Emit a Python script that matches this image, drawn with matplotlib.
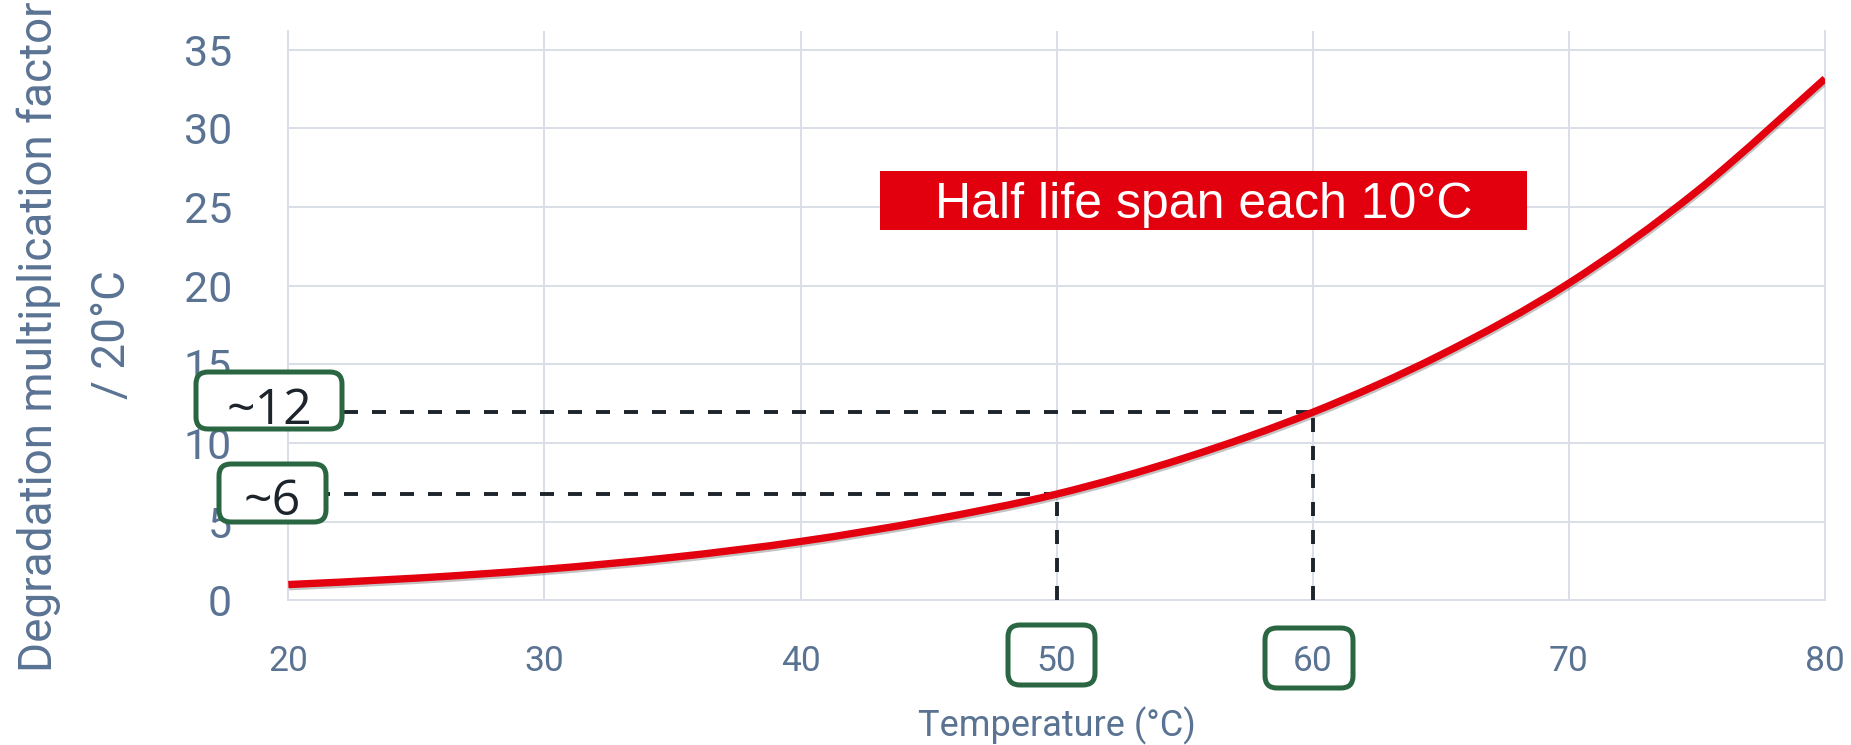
import numpy as np
import matplotlib.pyplot as plt
from matplotlib.patches import FancyBboxPatch, Rectangle, PathPatch
from matplotlib.path import Path
import matplotlib.patheffects as pe

# degradation multiplication factor relative to 20 degC, read every 5 degC
temps = [20, 25, 30, 35, 40, 45, 50, 55, 60, 65, 70, 75, 80]
factor = [1.0, 1.41, 1.97, 2.73, 3.74, 5.08, 6.75, 9.05, 11.95, 15.6, 20.15, 26.0, 33.15]
x_ticks = [20, 30, 40, 50, 60, 70, 80]
y_ticks = [0, 5, 10, 15, 20, 25, 30, 35]
marked_temps = [50, 60]
marked_labels = ['~6', '~12']
banner = 'Half life span each 10°C'

red = '#e3000f'
green = '#2a6642'
slate = '#5a7393'
grid_c = '#d9dee7'
ink = '#1d242b'

W, H = 1851, 745
fig = plt.figure(figsize=(W / 100, H / 100), dpi=100)
ax = fig.add_axes([288.3 / W, 1 - 600.3 / H, (1825 - 288.3) / W, (600.3 - 30.7) / H])

ax.set_xlim(20, 80)
ax.set_ylim(0, 36.2)
ax.set_xticks(x_ticks)
ax.set_yticks(y_ticks)
ax.grid(True, color=grid_c, lw=1.4)
ax.set_axisbelow(True)
for side in ['left', 'right', 'bottom']:
    ax.spines[side].set_color(grid_c)
    ax.spines[side].set_linewidth(1.4)
ax.spines['top'].set_visible(False)
ax.tick_params(axis='y', length=0, pad=40.5, labelsize=31, labelcolor=slate)
ax.tick_params(axis='x', length=0, pad=32.5, labelsize=25.5, labelcolor=slate)
for lab in ax.get_xticklabels() + ax.get_yticklabels():
    lab.set_family('Roboto')

# smoothed line through the points (cubic segments, like a spreadsheet "smooth line")
pts = np.column_stack([temps, factor]).astype(float)
ext = np.vstack([pts[0], pts, pts[-1]])
verts = [pts[0]]
codes = [Path.MOVETO]
for i in range(len(pts) - 1):
    p0, p1, p2, p3 = ext[i], ext[i + 1], ext[i + 2], ext[i + 3]
    verts += [p1 + (p2 - p0) / 6, p2 - (p3 - p1) / 6, p2]
    codes += [Path.CURVE4] * 3
curve = PathPatch(Path(verts, codes), fc='none', ec=red, lw=5.3, capstyle='butt', zorder=3,
                  path_effects=[pe.SimpleLineShadow(offset=(0.6, -1.6), shadow_color='#555555',
                                                    alpha=0.35),
                                pe.Normal()])
ax.add_patch(curve)

# guide lines to the two marked temperatures
for t in marked_temps:
    v = factor[temps.index(t)]
    ax.plot([20, t], [v, v], color=ink, lw=2.8, dashes=(3.6, 3.6), zorder=2.8)
    ax.plot([t, t], [0, v], color=ink, lw=2.8, dashes=(3.6, 3.6), zorder=2.8)

# red banner
ax.add_patch(Rectangle((0.385, 0.6501), 0.4209, 0.1041, transform=ax.transAxes,
                       fc='#e2000f', ec='none', zorder=4))
ax.text(0.5956, 0.6706, banner, transform=ax.transAxes, ha='center', va='baseline',
        fontsize=36, family='Liberation Sans', color='white', zorder=5)

# axis titles
fig.text(51.7 / W, 1 - 336.5 / H, 'Degradation multiplication factor', rotation=90,
         rotation_mode='anchor', ha='center', va='baseline', fontsize=33,
         family='Roboto', color=slate)
fig.text(125 / W, 1 - 335 / H, '/ 20°C', rotation=90, rotation_mode='anchor',
         ha='center', va='baseline', fontsize=33, family='Roboto', color=slate)
fig.text(1056.5 / W, 1 - 736 / H, 'Temperature (°C)', ha='center', va='baseline',
         fontsize=26, family='Roboto', color=slate)


def green_box(x0, y0, x1, y1, fill):
    p = FancyBboxPatch((x0 / 100, (H - y1) / 100), (x1 - x0) / 100, (y1 - y0) / 100,
                       boxstyle='round,pad=0,rounding_size=0.12',
                       transform=fig.dpi_scale_trans, fc=fill, ec=green, lw=3.6, zorder=5)
    fig.add_artist(p)


# value call-outs on the y axis
green_box(196, 372, 342, 429, 'white')
fig.text(269 / W, 1 - 424 / H, marked_labels[1], ha='center', va='baseline', fontsize=36,
         family='Open Sans', color=ink, zorder=6)
green_box(219, 464, 326, 522, 'white')
fig.text(272.5 / W, 1 - 515 / H, marked_labels[0], ha='center', va='baseline', fontsize=36,
         family='Open Sans', color=ink, zorder=6)

# frames round the marked x tick labels
green_box(1008, 625, 1095, 685, 'none')
green_box(1265, 628, 1353, 688, 'none')

fig.savefig('out.png', dpi=100)
